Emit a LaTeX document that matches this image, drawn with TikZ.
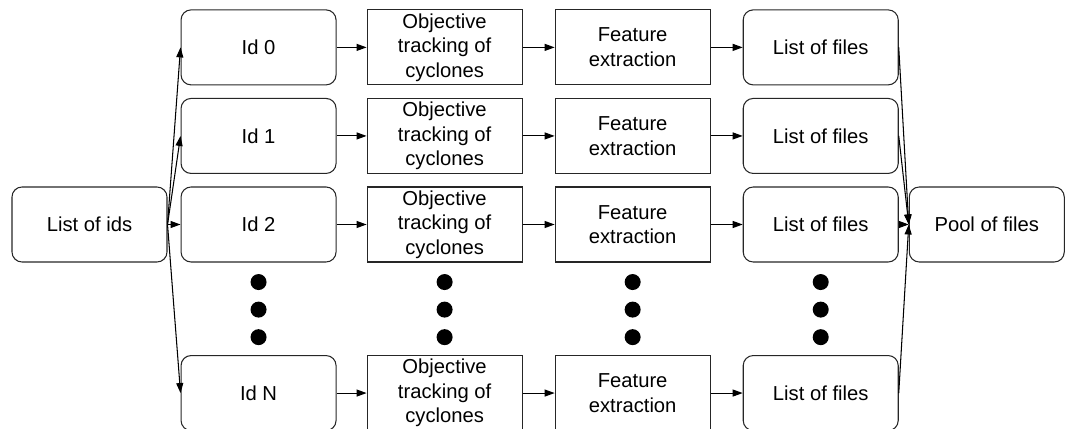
\documentclass[tikz,border=0pt]{standalone}
\usepackage{fontspec}
\setmainfont{Liberation Sans}
\usetikzlibrary{positioning,arrows.meta}

\begin{document}
\begin{tikzpicture}[
>={Triangle[length=0.2cm, width=0.14cm]},
every path/.style={line width=0.6pt},
box/.style={rectangle, draw=black!85, minimum width=3.1cm, minimum height=1.5cm, align=center, inner sep=1pt, font=\fontsize{11.5}{14}\selectfont},
rbox/.style={box, rounded corners=2mm},
dot/.style={circle, fill=black, inner sep=0pt, minimum size=0.32cm}
]
\useasboundingbox (0,0) rectangle (21.32,-8.58);
%Nodes
\node[rbox]      (ids)    at (1.79,-4.49)                {List of ids};
\node[rbox]      (id2)    [right=0.26cm of ids]          {Id 2};
\node[rbox]      (id1)    [above=0.25cm of id2]          {Id 1};
\node[rbox]      (id0)    [above=0.25cm of id1]          {Id 0};
\node[rbox]      (idN)    [below=1.85cm of id2]          {Id N};
\node[box]       (obj0)   [right=0.6cm of id0]           {Objective\\tracking of\\cyclones};
\node[box]       (obj1)   [right=0.6cm of id1]           {Objective\\tracking of\\cyclones};
\node[box]       (obj2)   [right=0.6cm of id2]           {Objective\\tracking of\\cyclones};
\node[box]       (objN)   [right=0.6cm of idN]           {Objective\\tracking of\\cyclones};
\node[box]       (feat0)  [right=0.64cm of obj0]         {Feature\\extraction};
\node[box]       (feat1)  [right=0.64cm of obj1]         {Feature\\extraction};
\node[box]       (feat2)  [right=0.64cm of obj2]         {Feature\\extraction};
\node[box]       (featN)  [right=0.64cm of objN]         {Feature\\extraction};
\node[rbox]      (files0) [right=0.64cm of feat0]        {List of files};
\node[rbox]      (files1) [right=0.64cm of feat1]        {List of files};
\node[rbox]      (files2) [right=0.64cm of feat2]        {List of files};
\node[rbox]      (filesN) [right=0.64cm of featN]        {List of files};
\node[rbox]      (pool)   [right=0.2cm of files2]        {Pool of files};
%Dots
\foreach \c in {id,obj,feat,files} {
  \node[dot] (\c dotA) [below=0.22cm of \c2]   {};
  \node[dot] (\c dotB) [below=0.21cm of \c dotA] {};
  \node[dot] (\c dotC) [below=0.21cm of \c dotB] {};
}
%Lines
\draw[->] (ids.east) -- (id0.west);
\draw[->] (ids.east) -- (id1.west);
\draw[->] (ids.east) -- (id2.west);
\draw[->] (ids.east) -- (idN.west);
\draw[->] (id0) -- (obj0);
\draw[->] (id1) -- (obj1);
\draw[->] (id2) -- (obj2);
\draw[->] (idN) -- (objN);
\draw[->] (obj0) -- (feat0);
\draw[->] (obj1) -- (feat1);
\draw[->] (obj2) -- (feat2);
\draw[->] (objN) -- (featN);
\draw[->] (feat0) -- (files0);
\draw[->] (feat1) -- (files1);
\draw[->] (feat2) -- (files2);
\draw[->] (featN) -- (filesN);
\draw[->] (files0.east) -- (pool.west);
\draw[->] (files1.east) -- (pool.west);
\draw[->] (files2.east) -- (pool.west);
\draw[->] (filesN.east) -- (pool.west);
\end{tikzpicture}
\end{document}
